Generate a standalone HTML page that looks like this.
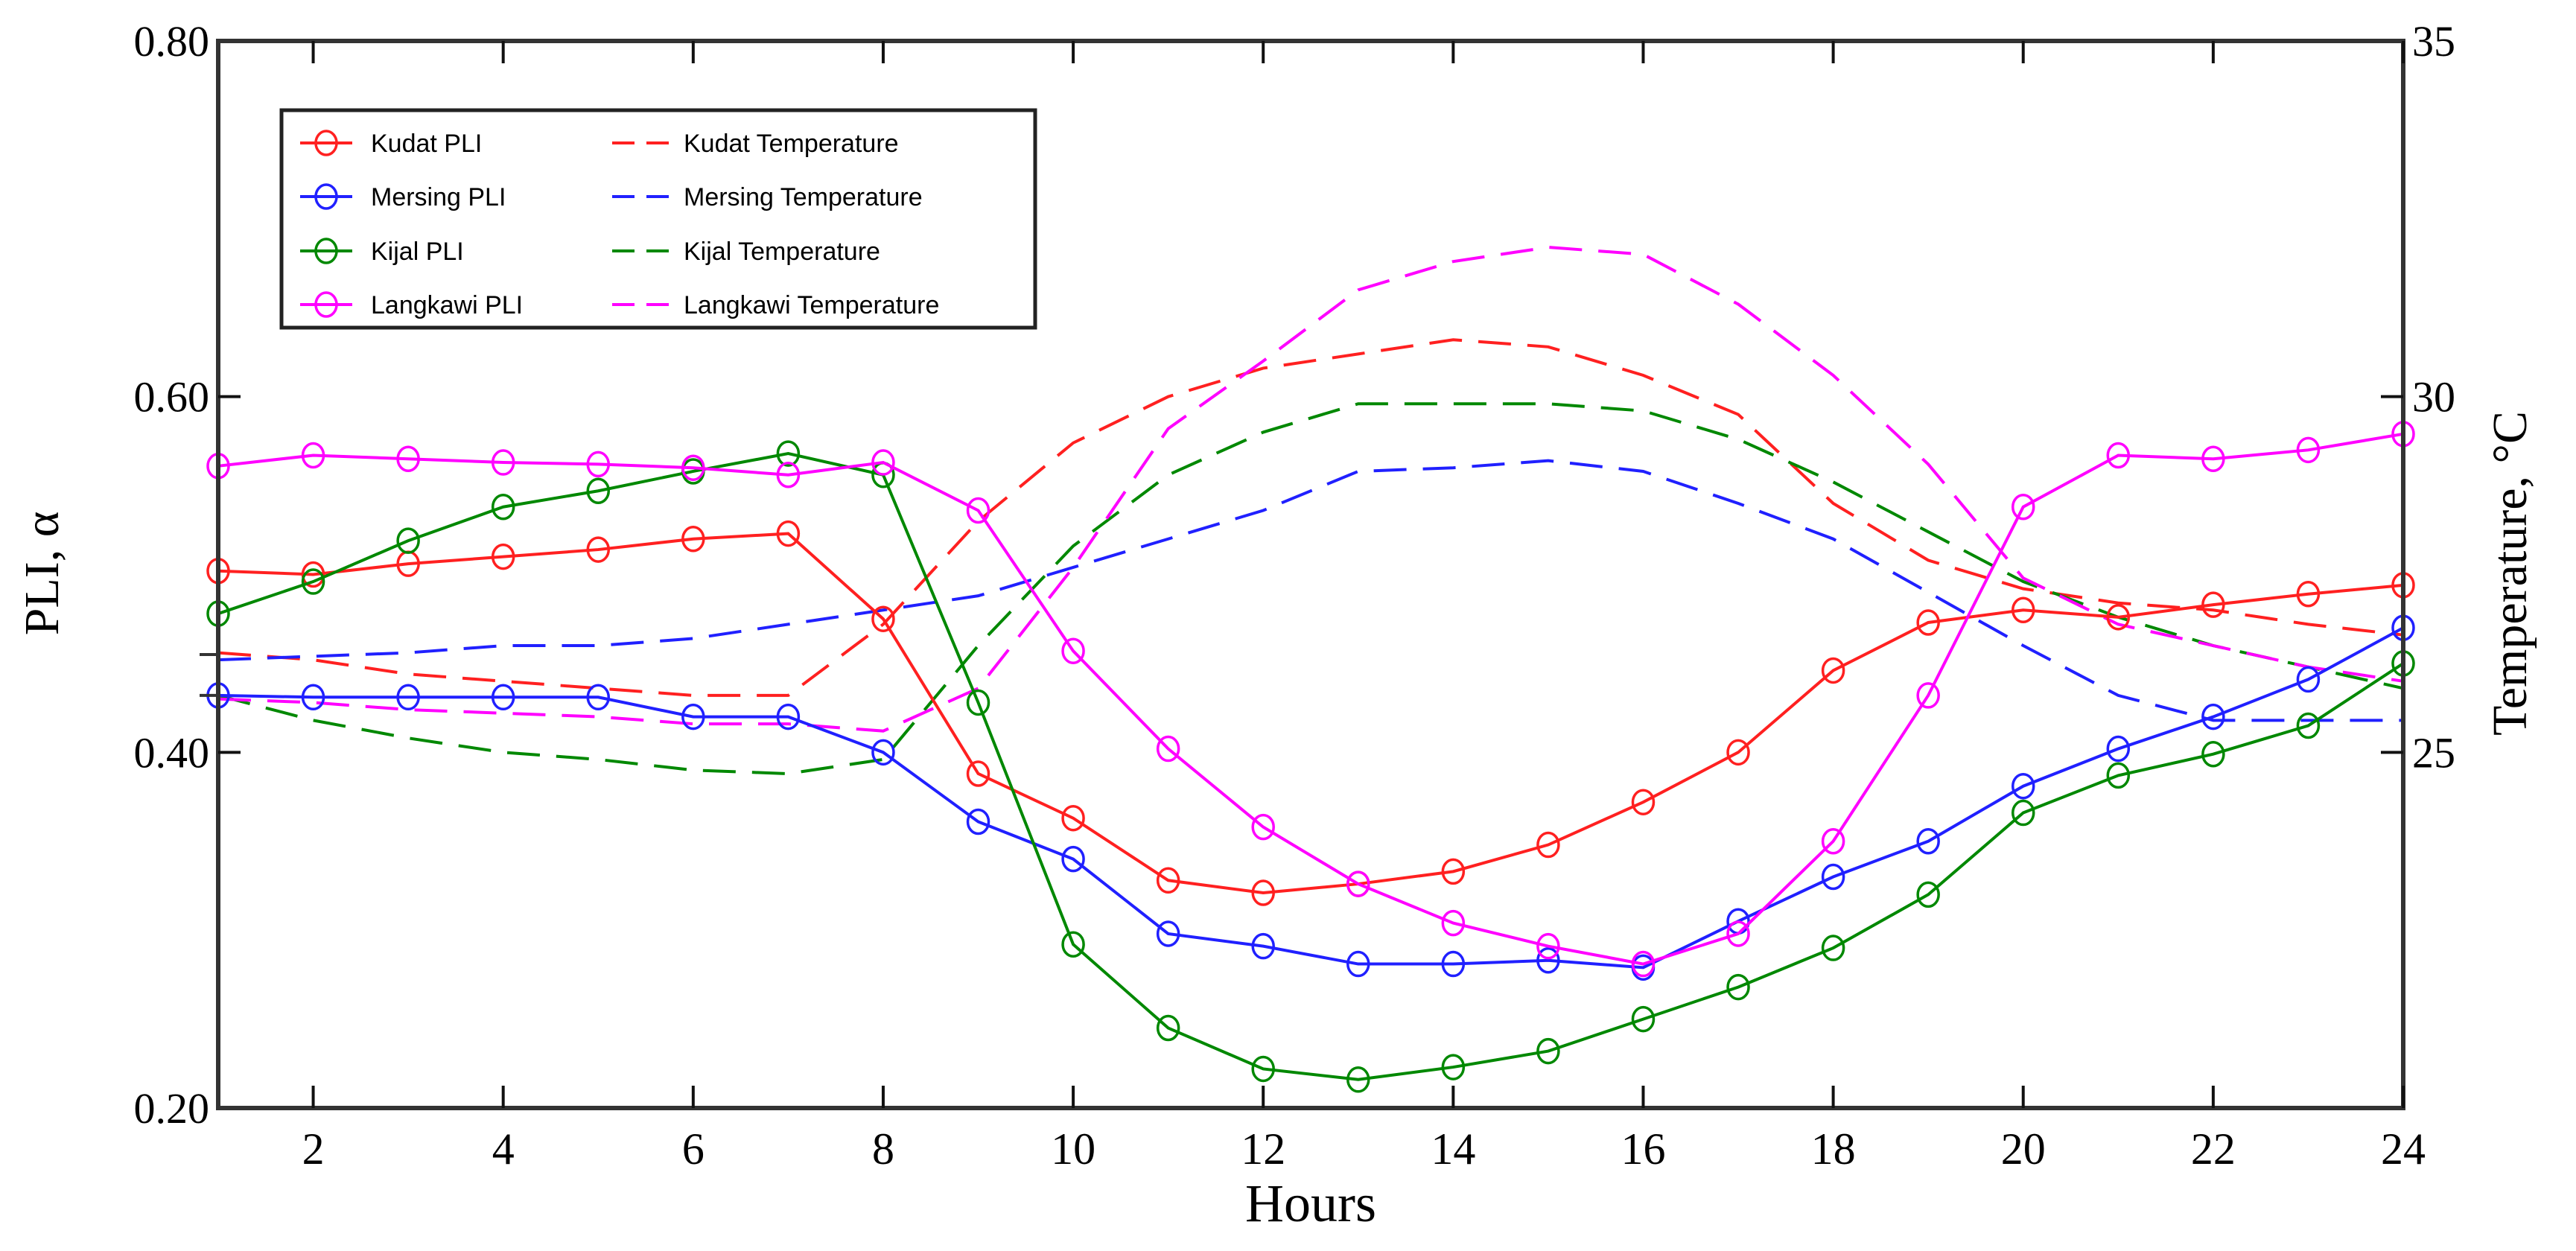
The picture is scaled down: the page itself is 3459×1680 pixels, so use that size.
<!DOCTYPE html>
<html><head><meta charset="utf-8"><style>
html,body{margin:0;padding:0;background:#fff;}
svg{display:block;}
</style></head><body>
<svg id="chart" width="3459" height="1680" xmlns="http://www.w3.org/2000/svg">
<g id="marks"></g>
<g id="axes"></g>
<g id="legend"></g>
</svg>
<script>
const hours = [1,2,3,4,5,6,7,8,9,10,11,12,13,14,15,16,17,18,19,20,21,22,23,24];
const xTicks = [2,4,6,8,10,12,14,16,18,20,22,24];
const yTicks = [0.20,0.40,0.60,0.80];
const yTickLabels = ["0.20","0.40","0.60","0.80"];
const tTicks = [25,30,35];
const kudatPLI = [.502,.500,.506,.510,.514,.520,.523,.475,.388,.363,.328,.321,.326,.333,.348,.372,.400,.446,.473,.480,.476,.483,.489,.494];
const mersingPLI = [.432,.431,.431,.431,.431,.420,.420,.400,.361,.340,.298,.291,.281,.281,.283,.279,.305,.330,.350,.381,.402,.420,.441,.470];
const kijalPLI = [.478,.496,.519,.538,.547,.558,.568,.556,.428,.292,.245,.222,.216,.223,.232,.250,.268,.290,.320,.366,.387,.399,.415,.450];
const langkawiPLI = [.561,.567,.565,.563,.562,.560,.556,.563,.536,.457,.402,.358,.326,.304,.291,.281,.298,.350,.432,.538,.567,.565,.570,.579];
const kudatTemp = [26.4,26.3,26.1,26.0,25.9,25.8,25.8,26.8,28.25,29.35,30.0,30.4,30.6,30.8,30.7,30.3,29.75,28.5,27.7,27.3,27.1,27.0,26.8,26.65];
const mersingTemp = [26.3,26.35,26.4,26.5,26.5,26.6,26.8,27.0,27.2,27.6,28.0,28.4,28.95,29.0,29.1,28.95,28.5,28.0,27.25,26.5,25.8,25.45,25.45,25.45];
const kijalTemp = [25.8,25.45,25.2,25.0,24.9,24.75,24.7,24.9,26.5,27.9,28.9,29.5,29.9,29.9,29.9,29.8,29.4,28.8,28.1,27.4,26.9,26.5,26.2,25.9];
const langkawiTemp = [25.75,25.7,25.6,25.55,25.5,25.4,25.4,25.3,25.9,27.6,29.55,30.5,31.5,31.9,32.1,32.0,31.3,30.3,29.05,27.45,26.8,26.5,26.2,26.0];

const NS="http://www.w3.org/2000/svg";
const L=293,R=3227,T=55,B=1488;
const x=h=>L+(h-1)/23*(R-L);
const y=v=>B-(v-0.2)/0.6*(B-T);
const yt=t=>B-(t-20)/15*(B-T);
function mk(tag,attrs,parent){const e=document.createElementNS(NS,tag);for(const k in attrs)e.setAttribute(k,attrs[k]);parent.appendChild(e);return e;}
const marks=document.getElementById('marks'),axes=document.getElementById('axes'),legend=document.getElementById('legend');

const tempSeries=[["kudat",kudatTemp,"#ff2020"],["mersing",mersingTemp,"#2020ff"],["kijal",kijalTemp,"#008800"],["langkawi",langkawiTemp,"#ff00ff"]];
const pliSeries=[["kudat",kudatPLI,"#ff2020"],["mersing",mersingPLI,"#2020ff"],["kijal",kijalPLI,"#008800"],["langkawi",langkawiPLI,"#ff00ff"]];
tempSeries.forEach(s=>{
  const p=mk('polyline',{points:s[1].map((v,i)=>x(hours[i])+','+yt(v)).join(' '),fill:'none',stroke:s[2],'stroke-width':4,'stroke-dasharray':'44 22'},marks);
  
  
});
pliSeries.forEach(s=>{
  const g=mk('g',{},marks);
  
  
  mk('polyline',{points:s[1].map((v,i)=>x(hours[i])+','+y(v)).join(' '),fill:'none',stroke:s[2],'stroke-width':4},g);
  s[1].forEach((v,i)=>{
    const c=mk('ellipse',{cx:x(hours[i]),cy:y(v),rx:14,ry:16,fill:'none',stroke:s[2],'stroke-width':3.5},g);
    
    
  });
});
// frame
const fr=mk('rect',{x:L,y:T,width:R-L,height:B-T,fill:'none',stroke:'#333','stroke-width':6},axes);


xTicks.forEach(h=>{
  mk('line',{x1:x(h),x2:x(h),y1:B,y2:B-30,stroke:'#111','stroke-width':4},axes);
  mk('line',{x1:x(h),x2:x(h),y1:T,y2:T+30,stroke:'#111','stroke-width':4},axes);
  const t=mk('text',{x:x(h),y:B+75,'text-anchor':'middle','font-family':'Liberation Serif, serif','font-size':60,fill:'#000'},axes);
  t.textContent=h;
  
  
});
yTicks.forEach((v,i)=>{
  if(i>0&&i<yTicks.length-1)mk('line',{x1:L,x2:L+30,y1:y(v),y2:y(v),stroke:'#111','stroke-width':4},axes);
  const t=mk('text',{x:L-12,y:y(v)+20,'text-anchor':'end','font-family':'Liberation Serif, serif','font-size':58,fill:'#000'},axes);
  t.textContent=yTickLabels[i];
  
  
});
tTicks.forEach((v,i)=>{
  if(i<tTicks.length-1)mk('line',{x1:R,x2:R-30,y1:yt(v),y2:yt(v),stroke:'#111','stroke-width':4},axes);
  const t=mk('text',{x:R+12,y:yt(v)+20,'font-family':'Liberation Serif, serif','font-size':58,fill:'#000'},axes);
  t.textContent=v;
  
  
});
mk('line',{x1:268,x2:L,y1:y(0.455),y2:y(0.455),stroke:'#333','stroke-width':4},axes);
mk('line',{x1:268,x2:L,y1:y(0.432),y2:y(0.432),stroke:'#333','stroke-width':4},axes);
</script>
<svg style="position:absolute;left:0;top:0" width="3459" height="1680" xmlns="http://www.w3.org/2000/svg">
<text x="1760" y="1640" text-anchor="middle" font-family="Liberation Serif, serif" font-size="72">Hours</text>
<text transform="translate(78,770) rotate(-90)" text-anchor="middle" font-family="Liberation Serif, serif" font-size="66">PLI, α</text>
<text transform="translate(3392,770) rotate(-90)" text-anchor="middle" font-family="Liberation Serif, serif" font-size="66">Temperature, °C</text>
<g font-family="Liberation Sans, sans-serif" font-size="34">
<rect x="378" y="148" width="1012" height="292" fill="#fff" stroke="#222" stroke-width="5"/>
<g><line x1="403" x2="473" y1="192" y2="192" stroke="#ff2020" stroke-width="4"/><ellipse cx="438" cy="192" rx="14" ry="16" fill="none" stroke="#ff2020" stroke-width="3.5"/><text x="498" y="204">Kudat PLI</text></g>
<g><line x1="403" x2="473" y1="264" y2="264" stroke="#2020ff" stroke-width="4"/><ellipse cx="438" cy="264" rx="14" ry="16" fill="none" stroke="#2020ff" stroke-width="3.5"/><text x="498" y="276">Mersing PLI</text></g>
<g><line x1="403" x2="473" y1="337" y2="337" stroke="#008800" stroke-width="4"/><ellipse cx="438" cy="337" rx="14" ry="16" fill="none" stroke="#008800" stroke-width="3.5"/><text x="498" y="349">Kijal PLI</text></g>
<g><line x1="403" x2="473" y1="409" y2="409" stroke="#ff00ff" stroke-width="4"/><ellipse cx="438" cy="409" rx="14" ry="16" fill="none" stroke="#ff00ff" stroke-width="3.5"/><text x="498" y="421">Langkawi PLI</text></g>
<g><line x1="822" x2="902" y1="192" y2="192" stroke="#ff2020" stroke-width="4" stroke-dasharray="30 16"/><text x="918" y="204">Kudat Temperature</text></g>
<g><line x1="822" x2="902" y1="264" y2="264" stroke="#2020ff" stroke-width="4" stroke-dasharray="30 16"/><text x="918" y="276">Mersing Temperature</text></g>
<g><line x1="822" x2="902" y1="337" y2="337" stroke="#008800" stroke-width="4" stroke-dasharray="30 16"/><text x="918" y="349">Kijal Temperature</text></g>
<g><line x1="822" x2="902" y1="409" y2="409" stroke="#ff00ff" stroke-width="4" stroke-dasharray="30 16"/><text x="918" y="421">Langkawi Temperature</text></g>
</g>
</svg>
</body></html>
